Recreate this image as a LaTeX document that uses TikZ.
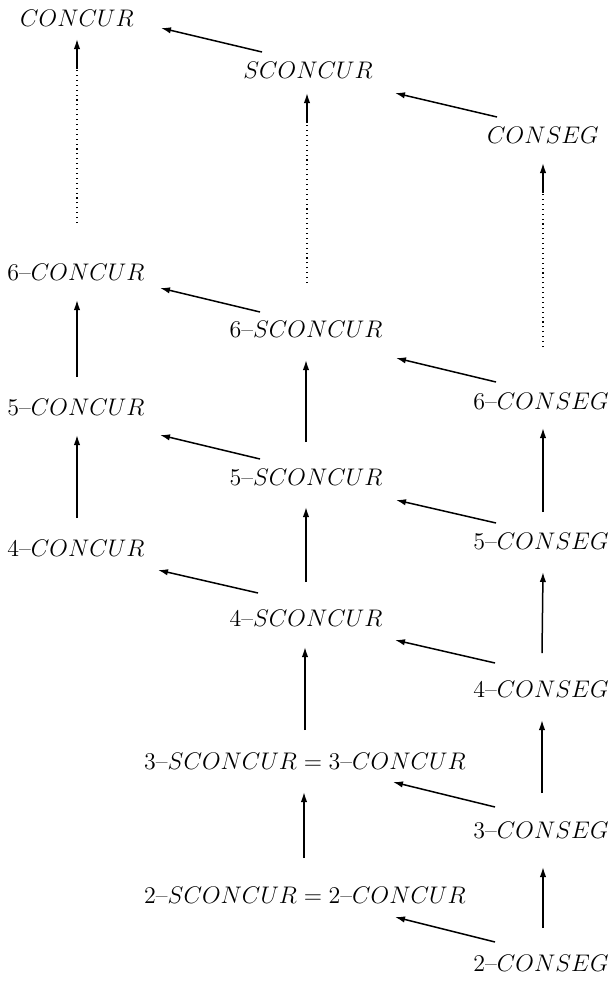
\documentclass[tikz,border=0pt]{standalone}
\usetikzlibrary{arrows.meta,calc}
\tikzset{
  lbl/.style={inner sep=0pt, anchor=center, font=\fontsize{12}{14}\selectfont},
  arr/.style={line width=0.75pt, -{Latex[length=5pt,width=3.2pt]}},
  dotline/.style={line width=0.65pt, dash pattern=on 0.55pt off 1.9pt},
}
\begin{document}
\begin{tikzpicture}[x=0.5pt,y=-0.5pt]
\useasboundingbox (0,0) rectangle (611,981);

% left column
\node[lbl] (C0) at (77,18)  {$CONCUR$};
\node[lbl] (C6) at (76,273) {6--$CONCUR$};
\node[lbl] (C5) at (76,408) {5--$CONCUR$};
\node[lbl] (C4) at (76,548) {4--$CONCUR$};

% middle column
\node[lbl] (S0) at (308,70)  {$SCONCUR$};
\node[lbl] (S6) at (306,330) {6--$SCONCUR$};
\node[lbl] (S5) at (306,478) {5--$SCONCUR$};
\node[lbl] (S4) at (306,618) {4--$SCONCUR$};
\node[lbl] (S3) at (305,761) {$3\mbox{--}SCONCUR = 3\mbox{--}CONCUR$};
\node[lbl] (S2) at (305,895) {$2\mbox{--}SCONCUR = 2\mbox{--}CONCUR$};

% right column
\node[lbl] (G0) at (543,135) {$CONSEG$};
\node[lbl] (G6) at (541,402) {6--$CONSEG$};
\node[lbl] (G5) at (541,542) {5--$CONSEG$};
\node[lbl] (G4) at (541,689) {4--$CONSEG$};
\node[lbl] (G3) at (541,831) {3--$CONSEG$};
\node[lbl] (G2) at (541,963) {2--$CONSEG$};

% limits: dotted stems ending in a short arrow
\draw[dotline] ($(C6)+(1,-50)$) -- ($(C0)+(0,51)$);
\draw[arr]     ($(C0)+(0,51)$) -- ($(C0)+(0,21)$);
\draw[dotline] ($(S6)+(1,-47)$) -- ($(S0)+(-1,53)$);
\draw[arr]     ($(S0)+(-1,53)$) -- ($(S0)+(-1,23)$);
\draw[dotline] ($(G6)+(2,-55)$) -- ($(G0)+(0,58)$);
\draw[arr]     ($(G0)+(0,58)$) -- ($(G0)+(0,28)$);

% vertical inclusions
\draw[arr] ($(C5)+(1,-31)$) -- ($(C6)+(1,27)$);
\draw[arr] ($(C4)+(1,-30)$) -- ($(C5)+(1,27)$);
\draw[arr] ($(S5)+(0,-36)$) -- ($(S6)+(0,30)$);
\draw[arr] ($(S4)+(0,-36)$) -- ($(S5)+(0,29)$);
\draw[arr] ($(S3)+(0,-31)$) -- ($(S4)+(-1,29)$);
\draw[arr] ($(S2)+(-1,-37)$) -- ($(S3)+(-1,31)$);
\draw[arr] ($(G5)+(2,-30)$) -- ($(G6)+(2,26)$);
\draw[arr] ($(G4)+(1,-36)$) -- ($(G5)+(2,30)$);
\draw[arr] ($(G3)+(1,-38)$) -- ($(G4)+(1,31)$);
\draw[arr] ($(G2)+(2,-35)$) -- ($(G3)+(2,36)$);

% diagonal inclusions, middle to left
\draw[arr] ($(S0)+(-46,-18)$) -- ($(C0)+(84,10)$);
\draw[arr] ($(S6)+(-46,-18)$) -- ($(C6)+(84,15)$);
\draw[arr] ($(S5)+(-46,-19)$) -- ($(C5)+(84,27)$);
\draw[arr] ($(S4)+(-48,-25)$) -- ($(C4)+(82,22)$);

% diagonal inclusions, right to middle
\draw[arr] ($(G0)+(-46,-18)$) -- ($(S0)+(87,23)$);
\draw[arr] ($(G6)+(-45,-20)$) -- ($(S6)+(90,28)$);
\draw[arr] ($(G5)+(-45,-19)$) -- ($(S5)+(90,22)$);
\draw[arr] ($(G4)+(-46,-26)$) -- ($(S4)+(89,22)$);
\draw[arr] ($(G3)+(-46,-24)$) -- ($(S3)+(88,21)$);
\draw[arr] ($(G2)+(-46,-21)$) -- ($(S2)+(90,22)$);
\end{tikzpicture}
\end{document}
